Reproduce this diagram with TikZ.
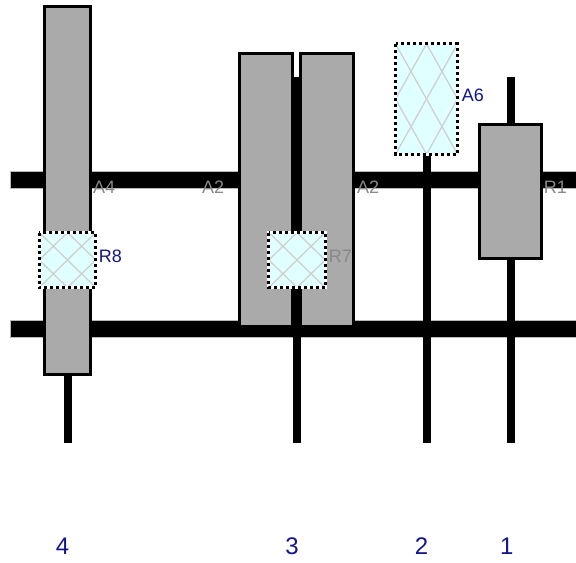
\documentclass[tikz,border=0pt]{standalone}
\usepackage{fontspec}
\setmainfont{Liberation Sans}
\definecolor{gearfill}{RGB}{170,170,170}
\definecolor{clutchfill}{RGB}{224,255,255}
\definecolor{hatchline}{RGB}{208,208,208}
\definecolor{tagblue}{RGB}{20,20,140}
\definecolor{taggray}{RGB}{136,136,136}
\newcommand{\hatchbox}[5]{%
  % #1 name, #2..#5 = x1, y1, x2, y2 (border centre line)
  \coordinate (#1-nw) at (#2,#3);
  \coordinate (#1-se) at (#4,#5);
  \fill[clutchfill] (#1-nw) rectangle (#1-se);
  \begin{scope}
    \clip (#1-nw) rectangle (#1-se);
    \draw[hatch] (#2,#3) -- (#4,#5);
    \draw[hatch] (#4,#3) -- (#2,#5);
    \draw[hatch] ({(#2+#4)/2},#3) -- (#2,{(#3+#5)/2}) -- ({(#2+#4)/2},#5)
                 -- (#4,{(#3+#5)/2}) -- cycle;
  \end{scope}
  \draw[clutchedge] (#1-nw) rectangle (#1-se);
  \draw[clutchdots] (#1-nw) rectangle (#1-se);
}
\begin{document}
\begin{tikzpicture}[x=1bp,y=-1bp,
  rail/.style={fill=black,draw=gray!55,line width=0.6bp},
  shaft/.style={draw=black,line width=8bp,line cap=butt},
  gear/.style={fill=gearfill,draw=black,line width=3bp},
  hatch/.style={draw=hatchline,line width=1.3bp},
  clutchedge/.style={draw=white,line width=3bp},
  clutchdots/.style={draw=black,line width=3bp,dash pattern=on 3bp off 3bp},
  tag/.style={inner sep=0pt,anchor=base west,font=\fontsize{18bp}{20bp}\selectfont},
  num/.style={inner sep=0pt,anchor=base,text=tagblue,font=\fontsize{24bp}{26bp}\selectfont}]
  \useasboundingbox (0,0) rectangle (576,563);

  % two horizontal rails
  \path[rail] (10,171) rectangle (576,188);
  \path[rail] (10,320) rectangle (576,337);

  % vertical shafts
  \coordinate (s4t) at (67.5,180);  \coordinate (s4b) at (67.5,443);
  \coordinate (s3t) at (296.5,77);  \coordinate (s3b) at (296.5,443);
  \coordinate (s2t) at (426.5,150); \coordinate (s2b) at (426.5,443);
  \coordinate (s1t) at (510.7,77);  \coordinate (s1b) at (510.7,443);
  \draw[shaft] (s4t) -- (s4b);
  \draw[shaft] (s3t) -- (s3b);
  \draw[shaft] (s2t) -- (s2b);
  \draw[shaft] (s1t) -- (s1b);

  % gears
  \draw[gear] (44.8,6.8) rectangle (90.2,374.5);
  \draw[gear] (239.8,53.8) rectangle (292,326.5);
  \draw[gear] (300.8,53.8) rectangle (353.5,326.5);
  \draw[gear] (479.8,124.2) rectangle (541.2,258.5);

  % clutches
  \hatchbox{a6}{395.5}{43.8}{457.5}{154.2}
  \hatchbox{r8}{39.2}{232.5}{95.8}{287.5}
  \hatchbox{r7}{268.8}{232.5}{325.2}{287.5}

  % tags
  \node[tag,text=taggray] (tA4) at (93,193) {A4};
  \node[tag,text=taggray] (tA2l) at (202,193) {A2};
  \node[tag,text=taggray] (tA2r) at (357,193) {A2};
  \node[tag,text=taggray] (tR1) at (543.6,193) {R1};
  \node[tag,text=tagblue] (tA6) at (461.7,101.7) {A6};
  \node[tag,text=tagblue] (tR8) at (98.6,262.3) {R8};
  \node[tag,text=taggray] (tR7) at (328.6,262) {R7};

  % shaft numbers
  \node[num] (n4) at (62.5,554) {4};
  \node[num] (n3) at (292,554) {3};
  \node[num] (n2) at (421.5,554) {2};
  \node[num] (n1) at (506.7,554) {1};
\end{tikzpicture}
\end{document}
